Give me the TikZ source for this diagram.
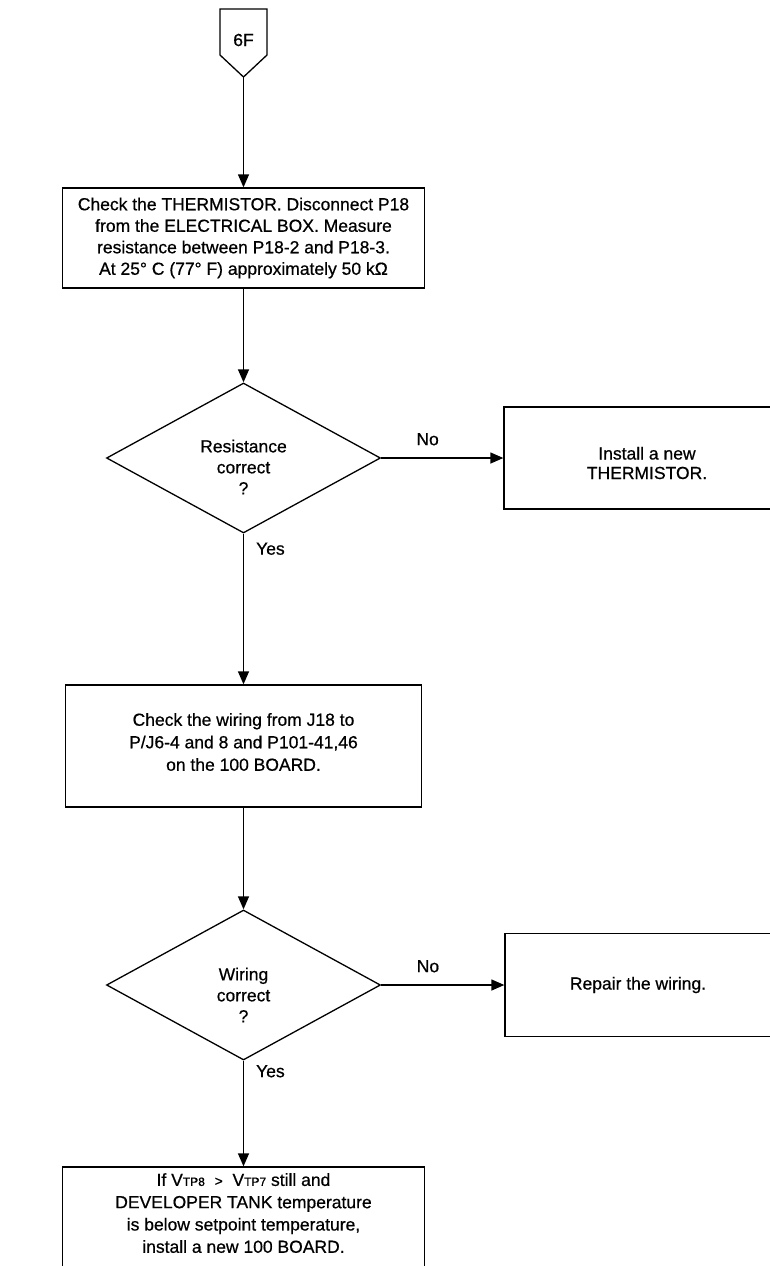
\documentclass[tikz,border=0pt]{standalone}
\usepackage{fontspec}
\setmainfont[FakeBold=0.6]{Liberation Sans}
\usetikzlibrary{arrows.meta,shapes.geometric}
\begin{document}
\begin{tikzpicture}[x=1pt,y=-1pt,
  every node/.style={font=\fontsize{17.5}{21.5}\selectfont},
  ln/.style={line width=1.3pt},
  arr/.style={ln,-{Triangle[length=13pt,width=11pt]}},
  boxnode/.style={draw,ln,rectangle,align=center,inner sep=0pt},
  dia/.style={draw,ln,diamond,inner sep=0pt,minimum width=274pt,minimum height=150pt},
  dtext/.style={align=center,inner sep=0pt,font=\fontsize{17.5}{21}\selectfont},
  lbl/.style={inner sep=0pt}
]
\useasboundingbox (0,0) rectangle (770,1266);
\fill[white] (0,0) rectangle (770,1266);
\clip (0,0) rectangle (770,1266);

% off-page connector 6F
\draw[ln] (220,9) -- (267,9) -- (267,55) -- (243.5,77) -- (220,55) -- cycle;
\node[lbl] (p6f) at (243.5,40) {6F};
\coordinate (p6ftip) at (243.5,77);

% box 1
\node[boxnode,minimum width=362pt,minimum height=100pt] (b1) at (243.5,238)
  {Check the THERMISTOR. Disconnect P18\\from the ELECTRICAL BOX. Measure\\resistance between P18-2 and P18-3.\\At 25° C (77° F) approximately 50 kΩ};

% decision 1
\node[dia] (d1) at (243.5,458) {};
\node[dtext] (d1t) at (243.5,467) {Resistance\\correct\\?};

% box 2
\node[boxnode,minimum width=286pt,minimum height=102pt] (b2) at (647,458) {};
\node[dtext,font=\fontsize{17.5}{19.5}\selectfont] (b2t) at (647,463) {Install a new\\THERMISTOR.};

% box 3
\node[boxnode,minimum width=356pt,minimum height=122pt] (b3) at (243.5,746) {};
\node[dtext,font=\fontsize{17.5}{22.5}\selectfont] (b3t) at (243.5,742) {Check the wiring from J18 to\\P/J6-4 and 8 and P101-41,46\\on the 100 BOARD.};

% decision 2
\node[dia] (d2) at (243.5,985) {};
\node[dtext] (d2t) at (243.5,995) {Wiring\\correct\\?};

% box 4
\node[boxnode,minimum width=285pt,minimum height=103pt] (b4) at (647.5,985) {};
\node[lbl] (b4t) at (638,985) {Repair the wiring.};

% box 5
\node[boxnode,minimum width=362pt,minimum height=130pt] (b5) at (243.5,1232) {};
\node[dtext,font=\fontsize{17.5}{22.3}\selectfont,anchor=north] (b5t) at (243.5,1173)
  {If V{\fontsize{12}{12}\selectfont TP8} \ {\fontsize{14}{14}\selectfont >} \ V{\fontsize{12}{12}\selectfont TP7} still and\\DEVELOPER TANK temperature\\is below setpoint temperature,\\install a new 100 BOARD.};

% connectors
\draw[arr] (p6ftip) -- (b1.north);
\draw[arr] (b1.south) -- (d1.north);
\draw[arr] (d1.east) -- (b2.west) node[lbl,pos=0.38,above=12pt] (no1) {No};
\draw[arr] (d1.south) -- (b3.north) node[lbl,pos=0.1,right=12pt] (yes1) {Yes};
\draw[arr] (b3.south) -- (d2.north);
\draw[arr] (d2.east) -- (b4.west) node[lbl,pos=0.38,above=12pt] (no2) {No};
\draw[arr] (d2.south) -- (b5.north) node[lbl,pos=0.1,right=12pt] (yes2) {Yes};
\end{tikzpicture}
\end{document}
